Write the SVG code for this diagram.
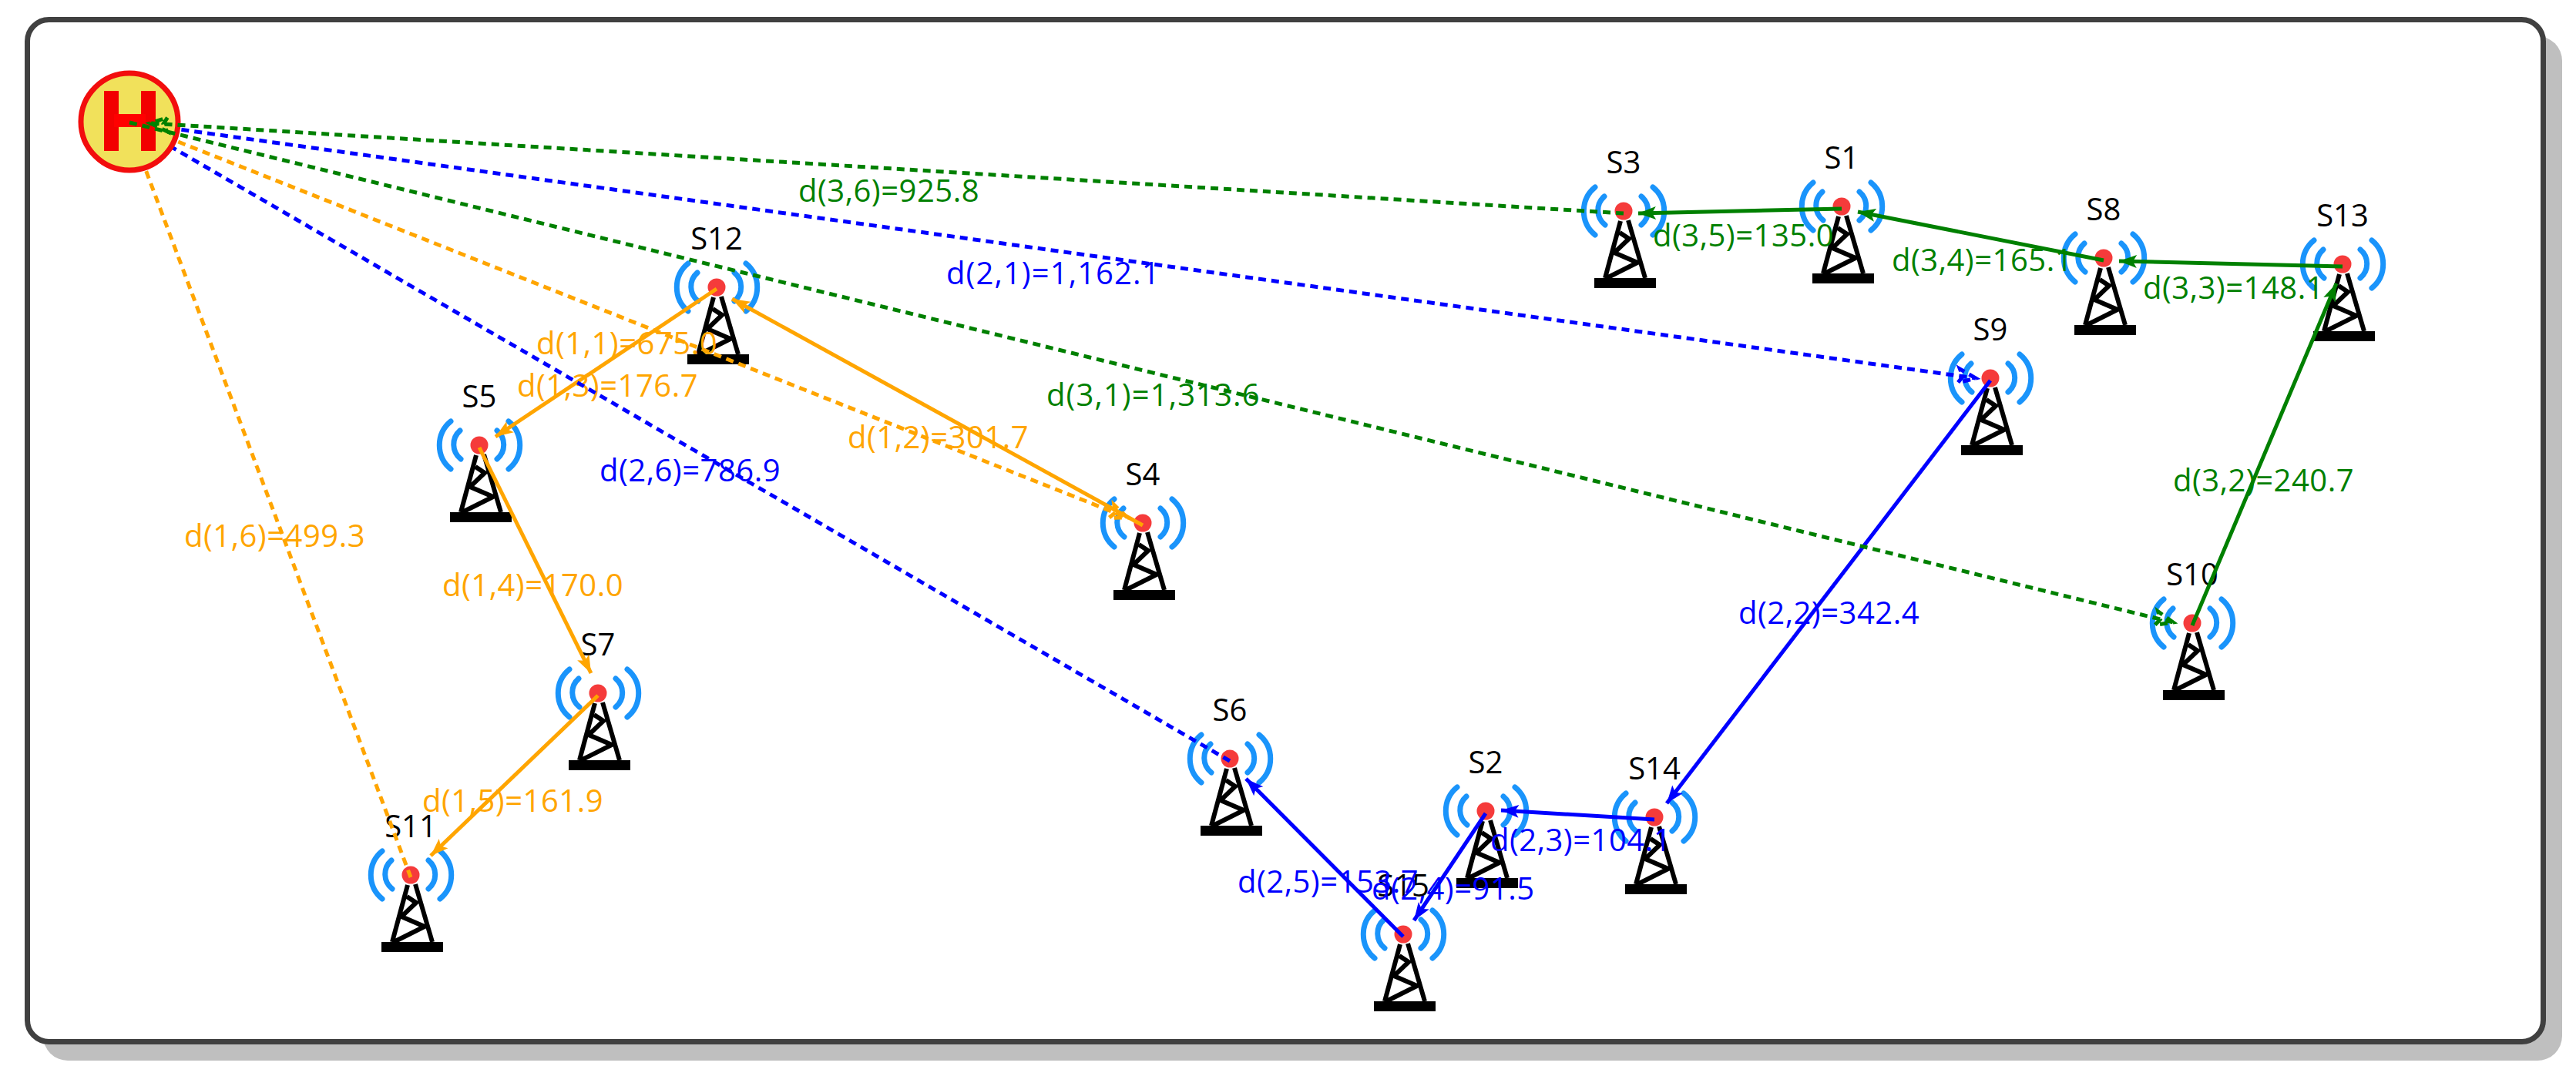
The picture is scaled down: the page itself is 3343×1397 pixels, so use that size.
<svg xmlns="http://www.w3.org/2000/svg" xmlns:xlink="http://www.w3.org/1999/xlink" width="3343" height="1397" viewBox="0 0 3343 1397">
<style>
text{font-family:"Open Sans","Noto Sans","Liberation Sans",sans-serif;font-size:40px;letter-spacing:.5px}
.n{fill:#000;text-anchor:middle;letter-spacing:0}
.o{fill:#ffa500}.b{fill:#0000ff}.g{fill:#008000}
.lo,.lb,.lg{fill:none;stroke-width:5}
.lo{stroke:#ffa500}.lb{stroke:#0000ff}.lg{stroke:#008000}
.d{stroke-dasharray:10 7}
.w{letter-spacing:1.1px}
</style>
<defs>
<g id="tower">
<g fill="none" stroke="#1a94fb" stroke-width="7" stroke-linecap="round">
<path d="M-37-31A40 40 0 0 0-37 31M-25-19A24 24 0 0 0-24 18M23-19A24 24 0 0 1 23 18M38-31A40 40 0 0 1 38 31"/>
</g>
<circle r="11.5" fill="#f53b3b"/>
<g fill="none" stroke="#000" stroke-width="6">
<path d="M-4 13L-24 87M6 12L28 87M-5 28L7 36L-12 54L18 67L-22 87"/>
</g>
<rect x="-38" y="87" width="80" height="13" fill="#000"/>
</g>
<marker id="mo" markerUnits="userSpaceOnUse" markerWidth="40" markerHeight="40" refX="30" refY="20" viewBox="0 0 40 40" orient="auto"><path d="M30 20L7 11.5L12 20L7 28.5Z" fill="#ffa500"/></marker>
<marker id="mb" markerUnits="userSpaceOnUse" markerWidth="40" markerHeight="40" refX="30" refY="20" viewBox="0 0 40 40" orient="auto"><path d="M30 20L7 11.5L12 20L7 28.5Z" fill="#0000ff"/></marker>
<marker id="mg" markerUnits="userSpaceOnUse" markerWidth="40" markerHeight="40" refX="30" refY="20" viewBox="0 0 40 40" orient="auto"><path d="M30 20L7 11.5L12 20L7 28.5Z" fill="#008000"/></marker>
<marker id="do" markerUnits="userSpaceOnUse" markerWidth="40" markerHeight="40" refX="30" refY="20" viewBox="0 0 40 40" orient="auto"><path d="M30 20L8 11L13 20L8 29Z" fill="none" stroke="#ffa500" stroke-width="5" stroke-dasharray="10 7"/></marker>
<marker id="db" markerUnits="userSpaceOnUse" markerWidth="40" markerHeight="40" refX="30" refY="20" viewBox="0 0 40 40" orient="auto"><path d="M30 20L8 11L13 20L8 29Z" fill="none" stroke="#0000ff" stroke-width="5" stroke-dasharray="10 7"/></marker>
<marker id="dg" markerUnits="userSpaceOnUse" markerWidth="40" markerHeight="40" refX="30" refY="20" viewBox="0 0 40 40" orient="auto"><path d="M30 20L8 11L13 20L8 29Z" fill="none" stroke="#008000" stroke-width="5" stroke-dasharray="10 7"/></marker>
</defs>
<rect width="3343" height="1397" fill="#fff"/>
<rect x="56" y="47" width="3269" height="1330" rx="32" fill="#bfbfbf"/>
<rect id="frame" x="35.5" y="25.5" width="3265" height="1327" rx="28" fill="#fff" stroke="#404040" stroke-width="7"/>
<g id="nodes">
<g id="S1"><use xlink:href="#tower" href="#tower" x="2390" y="268"/><text class="n" x="2390" y="219">S1</text></g>
<g id="S2"><use xlink:href="#tower" href="#tower" x="1928" y="1053"/><text class="n" x="1928" y="1004">S2</text></g>
<g id="S3"><use xlink:href="#tower" href="#tower" x="2107" y="274"/><text class="n" x="2107" y="225">S3</text></g>
<g id="S4"><use xlink:href="#tower" href="#tower" x="1483" y="679"/><text class="n" x="1483" y="630">S4</text></g>
<g id="S5"><use xlink:href="#tower" href="#tower" x="622" y="578"/><text class="n" x="622" y="529">S5</text></g>
<g id="S6"><use xlink:href="#tower" href="#tower" x="1596" y="985"/><text class="n" x="1596" y="936">S6</text></g>
<g id="S7"><use xlink:href="#tower" href="#tower" x="776" y="900"/><text class="n" x="776" y="851">S7</text></g>
<g id="S8"><use xlink:href="#tower" href="#tower" x="2730" y="335"/><text class="n" x="2730" y="286">S8</text></g>
<g id="S9"><use xlink:href="#tower" href="#tower" x="2583" y="491"/><text class="n" x="2583" y="442">S9</text></g>
<g id="S10"><use xlink:href="#tower" href="#tower" x="2845" y="809"/><text class="n" x="2845" y="760">S10</text></g>
<g id="S11"><use xlink:href="#tower" href="#tower" x="533" y="1136"/><text class="n" x="533" y="1087">S11</text></g>
<g id="S12"><use xlink:href="#tower" href="#tower" x="930" y="373"/><text class="n" x="930" y="324">S12</text></g>
<g id="S13"><use xlink:href="#tower" href="#tower" x="3040" y="343"/><text class="n" x="3040" y="294">S13</text></g>
<g id="S14"><use xlink:href="#tower" href="#tower" x="2147" y="1061"/><text class="n" x="2147" y="1012">S14</text></g>
<g id="S15"><use xlink:href="#tower" href="#tower" x="1821" y="1213"/><text class="n" x="1821" y="1164">S15</text></g>
</g>
<g id="connectors-orange-blue">
<path class="lo d" d="M168 159L1463 672" marker-end="url(#do)"/>
<path class="lo" d="M1483 682L950 388" marker-end="url(#mo)"/>
<path class="lo" d="M930 375L643 567" marker-end="url(#mo)"/>
<path class="lo" d="M622 581L767 874" marker-end="url(#mo)"/>
<path class="lo" d="M776 903L559 1111" marker-end="url(#mo)"/>
<path class="lo d" d="M533 1139L175 183"/>
<text class="o" x="696" y="460">d(1,1)=675.0</text>
<text class="o" x="1100" y="582">d(1,2)=301.7</text>
<text class="o" x="671" y="515">d(1,3)=176.7</text>
<text class="o" x="574" y="774">d(1,4)=170.0</text>
<text class="o" x="548" y="1054">d(1,5)=161.9</text>
<text class="o" x="239" y="710">d(1,6)=499.3</text>
<path class="lb d" d="M168 159L2564 491" marker-end="url(#db)"/>
<path class="lb" d="M2583 494L2163 1043" marker-end="url(#mb)"/>
<path class="lb" d="M2147 1064L1948 1052" marker-end="url(#mb)"/>
<path class="lb" d="M1928 1056L1835 1195" marker-end="url(#mb)"/>
<path class="lb" d="M1821 1216L1617 1011" marker-end="url(#mb)"/>
<path class="lb d" d="M1596 988L190 172"/>
<text class="b w" x="1228" y="369">d(2,1)=1,162.1</text>
<text class="b" x="2256" y="810">d(2,2)=342.4</text>
<text class="b" x="1934" y="1105">d(2,3)=104.1</text>
<text class="b" x="1780" y="1168">d(2,4)=91.5</text>
<text class="b" x="1606" y="1159">d(2,5)=153.7</text>
<text class="b" x="778" y="625">d(2,6)=786.9</text>
</g>
<g id="H">
<circle cx="168" cy="158" r="63" fill="#f1e15b" stroke="#f20d0d" stroke-width="7"/>
<path d="M135 118h19v78h-19zM183 118h19v78h-19z" fill="#f20000"/>
<rect x="148" y="148" width="41" height="17" fill="#f00"/>
</g>
<g id="connectors-green">
<path class="lg d" d="M168 159L2820 808" marker-end="url(#dg)"/>
<path class="lg" d="M2845 812L3032 368" marker-end="url(#mg)"/>
<path class="lg" d="M3040 346L2750 339" marker-end="url(#mg)"/>
<path class="lg" d="M2730 338L2411 275" marker-end="url(#mg)"/>
<path class="lg" d="M2390 271L2126 277" marker-end="url(#mg)"/>
<path class="lg d" d="M2107 277L195 160" marker-end="url(#dg)"/>
<text class="g w" x="1358" y="527">d(3,1)=1,313.6</text>
<text class="g" x="2820" y="638">d(3,2)=240.7</text>
<text class="g" x="2781" y="388">d(3,3)=148.1</text>
<text class="g" x="2455" y="352">d(3,4)=165.1</text>
<text class="g" x="2145" y="320">d(3,5)=135.0</text>
<text class="g" x="1036" y="262">d(3,6)=925.8</text>
</g>
</svg>
